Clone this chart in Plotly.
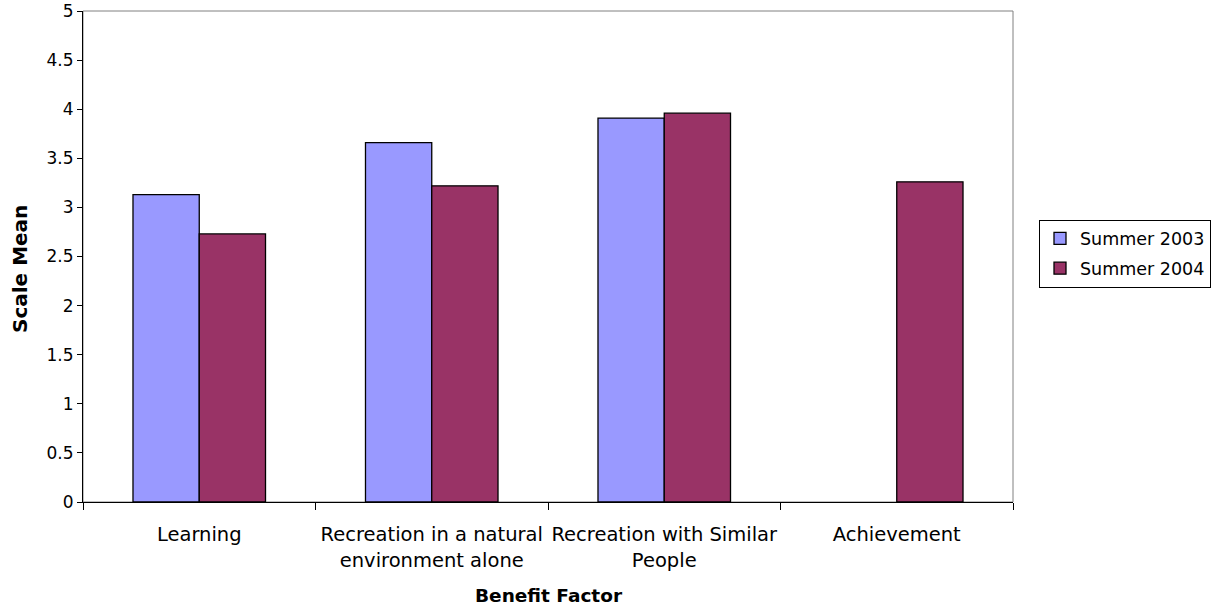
import plotly.graph_objects as go

categories = ["Learning", "Recreation in a natural<br>environment alone",
              "Recreation with Similar<br>People", "Achievement"]
summer_2003 = [3.13, 3.66, 3.91, None]
summer_2004 = [2.73, 3.22, 3.96, 3.26]
y_ticks = [0, 0.5, 1, 1.5, 2, 2.5, 3, 3.5, 4, 4.5, 5]

font_family = "Verdana, DejaVu Sans, sans-serif"

fig = go.Figure()
fig.add_trace(go.Bar(x=categories, y=summer_2003, name="Summer 2003", legendgroup="a",
                     marker=dict(color="#9999FF", line=dict(color="#000000", width=1.3))))
fig.add_trace(go.Bar(x=categories, y=summer_2004, name="Summer 2004", legendgroup="b",
                     marker=dict(color="#993366", line=dict(color="#000000", width=1.3))))

fig.update_layout(
    width=1213, height=609,
    margin=dict(l=83, r=200, t=11, b=107, autoexpand=False),
    plot_bgcolor="white", paper_bgcolor="white",
    barmode="group", bargap=0.43, bargroupgap=0,
    font=dict(family=font_family, size=18, color="#000000"),
    legend=dict(x=(1039 - 83) / 930, y=0.506, xanchor="left", yanchor="middle",
                bordercolor="#000000", borderwidth=1,
                font=dict(size=17.5), tracegroupgap=4, itemwidth=30),
    shapes=[dict(type="rect", xref="paper", yref="paper", x0=0, x1=1, y0=0, y1=1,
                 line=dict(color="#808080", width=1), layer="below")],
    annotations=[
        dict(text="<b>Scale Mean</b>", xref="paper", yref="paper",
             x=(20 - 83) / 930, y=(502 - 269) / 491, xanchor="center", yanchor="middle",
             textangle=-90, showarrow=False, font=dict(size=20)),
        dict(text="<b>Benefit Factor</b>", xref="paper", yref="paper",
             x=(549 - 83) / 930, y=(502 - 595) / 491, xanchor="center", yanchor="middle",
             showarrow=False, font=dict(size=18.5)),
    ],
)
fig.update_xaxes(
    automargin=False,
    showline=True, linecolor="#000000", linewidth=1,
    ticks="outside", tickson="boundaries", ticklen=7, tickcolor="#000000",
    tickfont=dict(size=19.5), ticklabelstandoff=15, tickangle=0,
    showgrid=False,
)
fig.update_yaxes(
    automargin=False,
    range=[0, 5], tickvals=y_ticks, ticktext=[f"{v:g}" for v in y_ticks],
    showline=True, linecolor="#000000", linewidth=1,
    ticks="outside", ticklen=5, tickcolor="#000000",
    tickfont=dict(size=17),
    showgrid=False, zeroline=False,
)

fig.write_html("out.html", post_script="document.body.style.margin='0';",
               config={"displayModeBar": False})
